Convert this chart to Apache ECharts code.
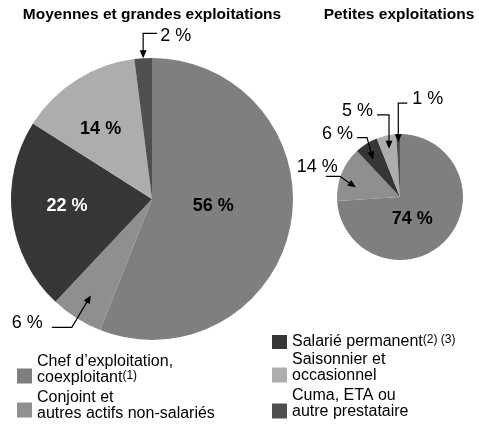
<!DOCTYPE html>
<html>
<head>
<meta charset="UTF-8"/>
<title></title>
<script src="https://cdn.jsdelivr.net/npm/echarts@6/dist/echarts.min.js" type="text/javascript"></script>
<style>
	html, body { margin: 0; padding: 0; background: #fff; }
	#chart { width: 479px; height: 425px; }
</style>
</head>
<body>
<div id="chart"></div>
<script type="text/javascript">
var categories = ['Chef d’exploitation, coexploitant', 'Conjoint et autres actifs non-salariés', 'Salarié permanent', 'Saisonnier et occasionnel', 'Cuma, ETA ou autre prestataire'];
var legendLabels = ['Chef d’exploitation,\ncoexploitant{sup|(1)}', 'Conjoint et\nautres actifs non-salariés', 'Salarié permanent{sup|(2) (3)}', 'Saisonnier et\noccasionnel', 'Cuma, ETA ou\nautre prestataire'];
var grandesValues = [56, 6, 22, 14, 2];
var petitesValues = [74, 14, 6, 5, 1];
var titles = ['Moyennes et grandes exploitations', 'Petites exploitations'];
var colors = ['#7f7f7f', '#8f8f8f', '#363636', '#adadad', '#4f4f4f'];

var FONT = '"Liberation Sans", Arial, sans-serif';

// pies: where they sit, and which slices get a label inside (with a small nudge)
var pies = [
	{values: grandesValues, center: [152, 199], radius: 141, titleX: 152,
	 inside: {0: [-11, -7], 2: [-12, -2], 3: [-12, -8]}},
	{values: petitesValues, center: [400, 197], radius: 63, titleX: 399,
	 inside: {0: [-13, -2]}}
];

// outside labels with arrows: tip on the slice (plus a nudge), leader path and text relative to the tip
var arrows = [
	{pie: 0, idx: 4, r: 1.0, shift: [0, 0], path: [[0, -25], [14, -25]], text: [17, -22], align: 'left'},
	{pie: 0, idx: 1, r: 0.81, shift: [0, 0], path: [[-19, 32], [-39, 32]], text: [-48, 28], align: 'right'},
	{pie: 1, idx: 4, r: 0.87, shift: [0, 0], path: [[0, -39], [9, -39]], text: [14, -43], align: 'left'},
	{pie: 1, idx: 3, r: 0.8, shift: [0, 1], path: [[0, -34], [-12, -34]], text: [-16, -38], align: 'right'},
	{pie: 1, idx: 2, r: 0.74, shift: [-2, 2], path: [[-6, -22], [-16, -22]], text: [-20, -26], align: 'right'},
	{pie: 1, idx: 1, r: 0.72, shift: [-2, 7], path: [[-16, -11], [-30, -11]], text: [-18, -20], align: 'right'}
];

// legend boxes (left, top) and icon offset for two-line entries
var legendPos = [[17, 354], [17, 390], [272, 334], [272, 352], [272, 388]];
var iconOffset = [14, 12, null, 15, 15];

function midAngle(values, idx) {
	var sum = 0, before = 0;
	for (var i = 0; i < values.length; i++) {
		sum += values[i];
		if (i < idx) before += values[i];
	}
	return (before + values[idx] / 2) / sum * 2 * Math.PI;
}

var graphics = [];
titles.forEach(function(t, k) {
	graphics.push({type: 'text', x: pies[k].titleX, y: 15, z: 100, silent: true,
		style: {text: t, font: 'bold 15.5px ' + FONT, fill: '#000', align: 'center', verticalAlign: 'middle'}});
});
arrows.forEach(function(a) {
	var p = pies[a.pie];
	var ang = midAngle(p.values, a.idx);
	var tip = [p.center[0] + p.radius * a.r * Math.sin(ang) + a.shift[0], p.center[1] - p.radius * a.r * Math.cos(ang) + a.shift[1]];
	var pts = a.path.map(function(d) { return [tip[0] + d[0], tip[1] + d[1]]; });
	var dx = tip[0] - pts[0][0], dy = tip[1] - pts[0][1];
	var len = Math.sqrt(dx * dx + dy * dy);
	dx /= len; dy /= len;
	var base = [tip[0] - dx * 8, tip[1] - dy * 8];
	var line = [[base[0] + dx * 2, base[1] + dy * 2]].concat(pts);
	graphics.push({type: 'polyline', z: 100, silent: true, shape: {points: line},
		style: {stroke: '#000', lineWidth: 1.2, fill: null}});
	graphics.push({type: 'polygon', z: 100, silent: true,
		shape: {points: [tip, [base[0] - dy * 3.5, base[1] + dx * 3.5], [base[0] + dy * 3.5, base[1] - dx * 3.5]]},
		style: {fill: '#000'}});
	graphics.push({type: 'text', z: 100, silent: true, x: tip[0] + a.text[0], y: tip[1] + a.text[1],
		style: {text: p.values[a.idx] + ' %', font: '18px ' + FONT, fill: '#000', align: a.align, verticalAlign: 'middle'}});
});

var legends = categories.map(function(name, i) {
	var off = iconOffset[i];
	return {
		left: legendPos[i][0], top: legendPos[i][1], padding: 0,
		orient: 'vertical', selectedMode: false,
		itemWidth: 15, itemHeight: off === null ? 14 : 31,
		data: [{name: name, icon: off === null ? 'rect' : 'path://M0,0h0.01ZM0,' + off + 'h15v15h-15ZM0,31h0.01Z'}],
		formatter: function(n) { return legendLabels[categories.indexOf(n)]; },
		textStyle: {fontSize: 16, lineHeight: 16, color: '#000', fontFamily: FONT,
			rich: {sup: {fontSize: 12, color: '#000', fontFamily: FONT, verticalAlign: 'top'}}}
	};
});

var chart = echarts.init(document.getElementById('chart'));
var option = {
	animation: false,
	legend: legends,
	graphic: graphics,
	series: pies.map(function(p) {
		return {
			type: 'pie', center: p.center, radius: p.radius,
			startAngle: 90, clockwise: true, silent: true, legendHoverLink: false,
			label: {show: true, position: 'inside', formatter: '{c} %', fontSize: 18, fontWeight: 'bold', color: '#000', fontFamily: FONT},
			labelLine: {show: false},
			labelLayout: function(params) {
				var o = p.inside[params.dataIndex];
				return o ? {dx: o[0], dy: o[1]} : {};
			},
			emphasis: {disabled: true},
			data: p.values.map(function(v, i) {
				return {
					name: categories[i], value: v,
					itemStyle: {color: colors[i]},
					label: {show: p.inside[i] !== undefined, color: i === 2 ? '#fff' : '#000'}
				};
			})
		};
	})
};
chart.setOption(option);
</script>
</body>
</html>
